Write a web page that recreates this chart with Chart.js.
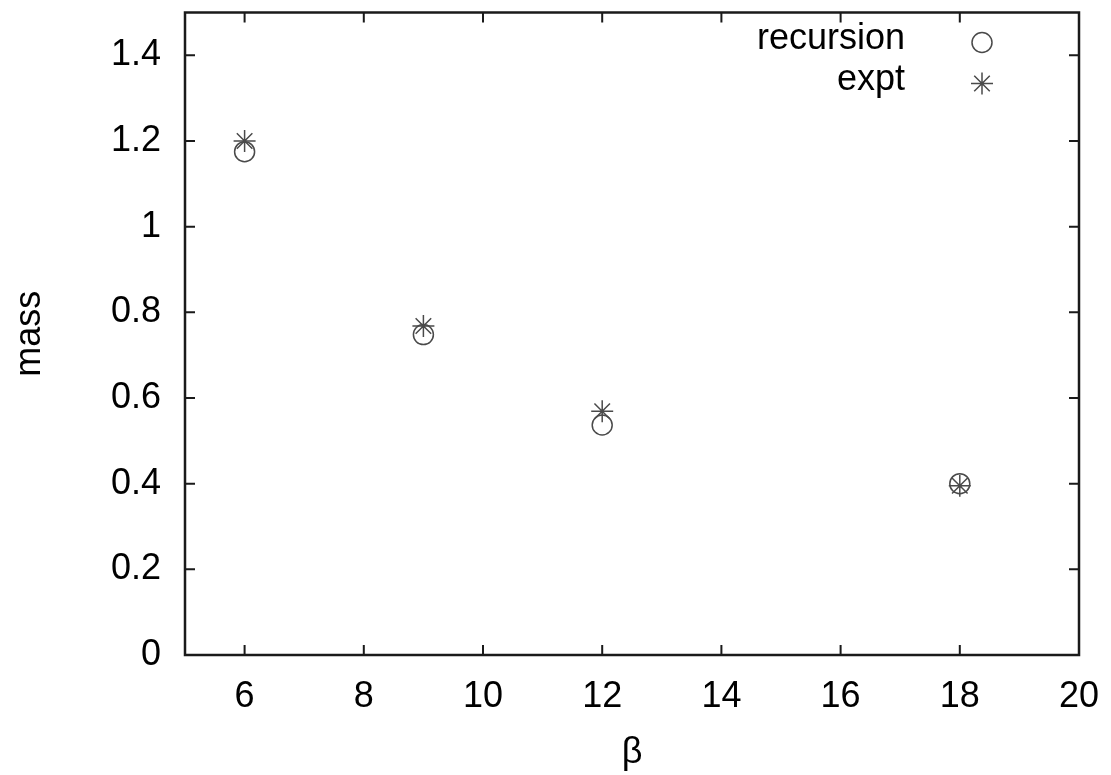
<!DOCTYPE html>
<html>
<head>
<meta charset="utf-8">
<script src="https://cdn.jsdelivr.net/npm/chart.js@4/dist/chart.umd.min.js"></script>
<style>
html,body{margin:0;padding:0;background:#fff;}
#wrap{width:1111px;height:775px;}
</style>
</head>
<body>
<div id="wrap"><canvas id="c" width="1111" height="775"></canvas></div>
<script>
const betas = [6, 9, 12, 18];
const recursionMass = [1.175, 0.748, 0.537, 0.40];
const exptMass = [1.20, 0.768, 0.569, 0.395];
const xTicks = [6, 8, 10, 12, 14, 16, 18, 20];
const yTicks = [0, 0.2, 0.4, 0.6, 0.8, 1, 1.2, 1.4];
const seriesNames = ['recursion', 'expt'];

const FONT = "'Liberation Sans', Arial, Helvetica, sans-serif";
const markColor = '#4a4a4a';

function noPad(s) { s.paddingTop = 0; s.paddingBottom = 0; s.paddingLeft = 0; s.paddingRight = 0; }

const framePlugin = {
  id: 'frame',
  afterDatasetsDraw(chart) {
    const ctx = chart.ctx, a = chart.chartArea;
    const xs = chart.scales.x, ys = chart.scales.y;
    ctx.save();
    ctx.strokeStyle = '#1a1a1a';
    ctx.lineWidth = 2.5;
    ctx.strokeRect(a.left, a.top, a.right - a.left, a.bottom - a.top);
    ctx.lineWidth = 2;
    const L = 10;
    xs.ticks.forEach(t => {
      const px = xs.getPixelForValue(t.value);
      ctx.beginPath();
      ctx.moveTo(px, a.bottom); ctx.lineTo(px, a.bottom - L);
      ctx.moveTo(px, a.top); ctx.lineTo(px, a.top + L);
      ctx.stroke();
    });
    ys.ticks.forEach(t => {
      const py = ys.getPixelForValue(t.value);
      ctx.beginPath();
      ctx.moveTo(a.left, py); ctx.lineTo(a.left + L, py);
      ctx.moveTo(a.right, py); ctx.lineTo(a.right - L, py);
      ctx.stroke();
    });
    // legend
    chart.data.datasets.forEach((ds, i) => {
      const y = a.top + 27 + i * 41;
      ctx.font = '36px ' + FONT;
      ctx.fillStyle = '#000';
      ctx.textAlign = 'right';
      ctx.textBaseline = 'middle';
      ctx.fillText(ds.label, a.right - 174, y);
      ctx.fillStyle = 'rgba(0,0,0,0)';
      ctx.strokeStyle = ds.borderColor;
      ctx.lineWidth = ds.borderWidth;
      Chart.helpers.drawPoint(ctx, {
        pointStyle: ds.pointStyle, radius: ds.pointRadius, rotation: 0,
        borderWidth: ds.borderWidth
      }, a.right - 97, y + 3);
    });
    ctx.restore();
  }
};

new Chart(document.getElementById('c'), {
  type: 'scatter',
  data: {
    datasets: [
      {
        label: seriesNames[0],
        data: betas.map((b, i) => ({x: b, y: recursionMass[i]})),
        pointStyle: 'circle', pointRadius: 10, pointHoverRadius: 10,
        borderColor: markColor, backgroundColor: 'rgba(0,0,0,0)', borderWidth: 1.5
      },
      {
        label: seriesNames[1],
        data: betas.map((b, i) => ({x: b, y: exptMass[i]})),
        pointStyle: 'star', pointRadius: 11, pointHoverRadius: 11,
        borderColor: markColor, backgroundColor: 'rgba(0,0,0,0)', borderWidth: 1.5
      }
    ]
  },
  options: {
    responsive: false,
    animation: false,
    layout: { padding: { top: 7, right: 32, left: 0, bottom: 0 } },
    plugins: { legend: { display: false }, tooltip: { enabled: false } },
    scales: {
      x: {
        type: 'linear', min: 5, max: 20,
        afterBuildTicks: s => { s.ticks = xTicks.map(v => ({value: v})); },
        afterFit: s => { s.height = 120; noPad(s); },
        grid: { display: false, drawTicks: false },
        border: { display: false },
        ticks: { color: '#000', font: { size: 36, family: FONT }, padding: 20, maxRotation: 0, callback: v => String(v) },
        title: { display: true, text: 'β', color: '#000', font: { size: 36, family: FONT }, padding: { top: 0, bottom: 0 } }
      },
      y: {
        type: 'linear', min: 0, max: 1.5,
        afterBuildTicks: s => { s.ticks = yTicks.map(v => ({value: v})); },
        afterFit: s => { s.width = 185; noPad(s); },
        grid: { display: false, drawTicks: false },
        border: { display: false },
        ticks: { color: '#000', font: { size: 36, family: FONT }, padding: 24, callback: v => String(v) },
        title: { display: true, text: 'mass', color: '#000', font: { size: 36, family: FONT }, padding: { top: 8, bottom: 0 } }
      }
    }
  },
  plugins: [framePlugin]
});
</script>
</body>
</html>
